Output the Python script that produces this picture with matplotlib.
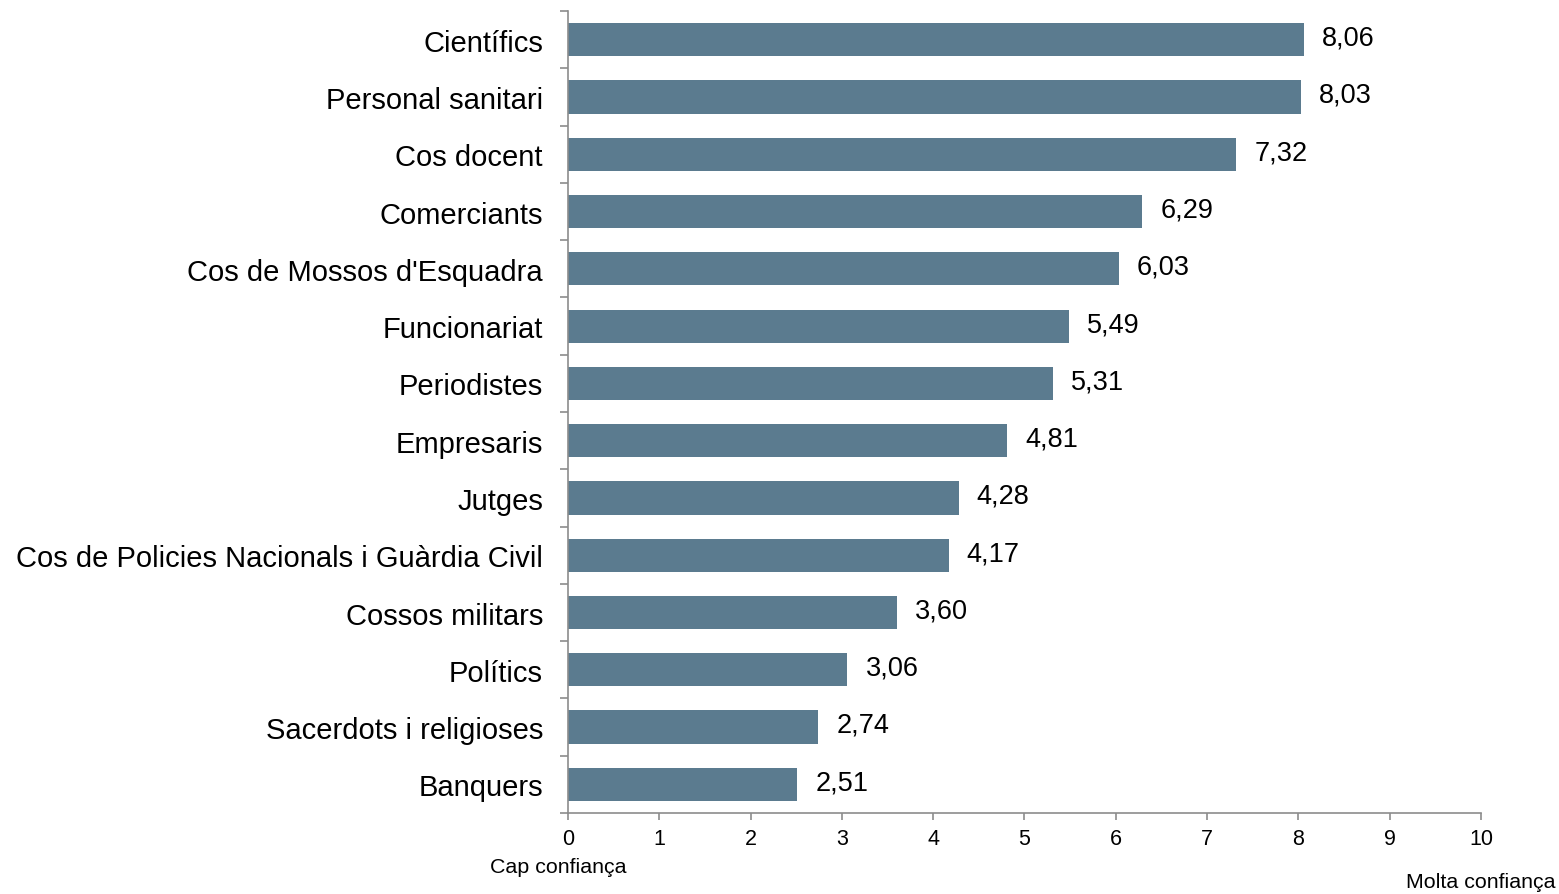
import numpy as np
import matplotlib
matplotlib.use("Agg")
import matplotlib.pyplot as plt

plt.rcParams["font.family"] = ["Liberation Sans", "DejaVu Sans"]

categories = ["Científics", "Personal sanitari", "Cos docent", "Comerciants",
              "Cos de Mossos d'Esquadra", "Funcionariat", "Periodistes",
              "Empresaris", "Jutges", "Cos de Policies Nacionals i Guàrdia Civil",
              "Cossos militars", "Polítics", "Sacerdots i religioses", "Banquers"]
values = [8.06, 8.03, 7.32, 6.29, 6.03, 5.49, 5.31, 4.81, 4.28, 4.17,
          3.60, 3.06, 2.74, 2.51]
x_ticks = list(range(0, 11))

BAR = "#5b7b8f"
GRID = "#8c8c8c"

fig = plt.figure(figsize=(15.59, 8.95), dpi=100)
ax = fig.add_axes([0.3643, 0.0905, 0.5857, 0.896])

y = np.arange(len(categories))
ax.barh(y, values, height=0.58, color=BAR)
ax.set_ylim(len(categories) - 0.5, -0.5)
ax.set_xlim(0, 10)

# etiquetes de valor amb coma decimal
for yi, v in zip(y, values):
    ax.annotate(f"{v:.2f}".replace(".", ","), (v, yi), xytext=(13, 1.5),
                textcoords="offset points", va="center", ha="left", fontsize=19.5)

ax.set_yticks(y)
ax.set_yticklabels(categories, fontsize=21)
for lbl in ax.get_yticklabels():
    lbl.set_va("center_baseline")
ax.set_yticks(np.arange(-0.5, len(categories)), minor=True)
ax.tick_params(axis="y", which="major", length=0, pad=18)
ax.tick_params(axis="y", which="minor", length=6, width=1.2, color=GRID)

ax.set_xticks(x_ticks)
ax.tick_params(axis="x", length=5, width=1.2, color=GRID, labelsize=15.5, pad=6)

for s in ["top", "right"]:
    ax.spines[s].set_visible(False)
for s in ["left", "bottom"]:
    ax.spines[s].set_color(GRID)
    ax.spines[s].set_linewidth(1.2)

fig.text(490 / 1559, 1 - 868 / 895, "Cap confiança", fontsize=15.4,
         ha="left", va="center")
fig.text(1556 / 1559, 1 - 883 / 895, "Molta confiança", fontsize=15.4,
         ha="right", va="center")

fig.savefig("out.png", dpi=100)
